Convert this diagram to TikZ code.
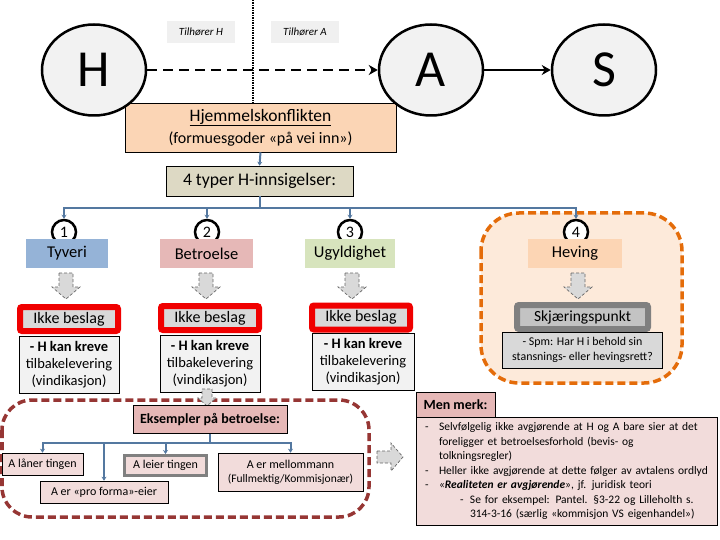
\documentclass[tikz,border=0pt]{standalone}
\usepackage{fontspec}
\setmainfont{Carlito}
\usetikzlibrary{shapes.geometric,arrows.meta}
\definecolor{ovalgray}{RGB}{242,242,242}
\definecolor{taggray}{RGB}{240,240,240}
\definecolor{hjemfill}{RGB}{251,213,181}
\definecolor{typerfill}{RGB}{221,217,196}
\definecolor{tyvblue}{RGB}{149,179,215}
\definecolor{betrpink}{RGB}{230,184,183}
\definecolor{ugylgreen}{RGB}{215,228,189}
\definecolor{hevpeach}{RGB}{252,213,180}
\definecolor{hevbg}{RGB}{253,234,218}
\definecolor{hevorange}{RGB}{228,108,10}
\definecolor{beslagred}{RGB}{240,0,0}
\definecolor{conblue}{RGB}{84,120,160}
\definecolor{darkred}{RGB}{150,54,52}
\definecolor{lightpink}{RGB}{242,220,219}
\definecolor{midgray}{RGB}{128,128,128}
\definecolor{skjgray}{RGB}{195,195,195}
\definecolor{spmgray}{RGB}{217,217,217}

\begin{document}
\begin{tikzpicture}[x=1pt,y=-1pt,
  party/.style={ellipse,draw,line width=2.5pt,fill=ovalgray,minimum width=104pt,
    minimum height=91pt,inner sep=0pt,font=\fontsize{52}{52}\selectfont},
  tag/.style={fill=taggray,minimum width=68pt,minimum height=22pt,inner sep=0pt,
    font=\fontsize{11}{13}\selectfont\itshape},
  box/.style={draw,line width=0.6pt,inner sep=0pt,align=center},
  num/.style={circle,draw,line width=2.5pt,fill=white,minimum size=24pt,inner sep=0pt,
    font=\fontsize{16}{16}\selectfont},
  cat/.style={minimum height=29pt,inner sep=0pt,font=\fontsize{16.5}{19}\selectfont},
  beslag/.style={draw=beslagred,line width=6pt,fill=spmgray,rounded corners=2pt,
    minimum width=98pt,minimum height=24pt,inner sep=0pt,font=\fontsize{16}{19}\selectfont},
  krav/.style={box,fill=ovalgray,minimum width=100pt,minimum height=57pt,
    font=\fontsize{14.5}{17}\selectfont},
  ex/.style={box,fill=lightpink,minimum height=22pt,font=\fontsize{12}{14}\selectfont},
  conn/.style={draw=conblue,line width=2pt,-{Stealth[length=4pt,width=5pt]}},
  blockarrow/.style={fill=spmgray,draw=black!60,line width=0.7pt,dash pattern=on 3pt off 2pt}
]
  \useasboundingbox (0,0) rectangle (720,540);

  % Heving frame
  \draw[hevorange,fill=hevbg,line width=3.5pt,dash pattern=on 8pt off 4pt,rounded corners=38pt]
    (481,213) rectangle (682,383);

  % Betroelse frame
  \draw[darkred,line width=3.5pt,dash pattern=on 8pt off 4pt,rounded corners=30pt]
    (2,400) rectangle (369,517);

  % Conflict box
  \node[box,fill=hjemfill,minimum width=271pt,minimum height=49pt,font=\fontsize{17.5}{22}\selectfont]
    (hjem) at (260.5,127.5) {\underline{Hjemmelskonflikten}\\{\fontsize{16}{18}\selectfont(formuesgoder «på vei inn»)}};

  % Parties
  \node[party] (h) at (94,70) {H};
  \node[party] (a) at (431,70) {A};
  \node[party] (s) at (604,70) {S};
  \node[tag] (tagh) at (201,32) {Tilhører H};
  \node[tag] (taga) at (305,32) {Tilhører A};

  % Ownership divide
  \coordinate (divtop) at (253,0);
  \draw[line width=2.5pt,dash pattern=on 1.5pt off 1pt] (divtop) -- (divtop |- hjem.north);
  \draw[line width=2.5pt,dash pattern=on 10pt off 6pt,-{Stealth[length=9pt,width=10pt]}] (h) -- (a);
  \draw[line width=2.5pt,-{Stealth[length=9pt,width=10pt]}] (a) -- (s);

  % Four types
  \node[box,fill=typerfill,minimum width=187pt,minimum height=30pt,font=\fontsize{17.7}{20}\selectfont]
    (typer) at (259.5,181) {4 typer H-innsigelser:};
  \draw[conn] (hjem.south) -- (typer.north);

  \foreach \n/\x in {1/64,2/207,3/350,4/576}
    \node[num] (n\n) at (\x,232) {\n};
  \foreach \n in {1,...,4}
    \draw[conn] (typer.south) -- ++(0,12) -| (n\n.north);

  \node[cat,fill=tyvblue,minimum width=82pt] (tyveri) at (67,253.5) {Tyveri};
  \node[cat,fill=betrpink,minimum width=93pt] (betro) at (206.5,253.5) {Betroelse};
  \node[cat,fill=ugylgreen,minimum width=90pt] (ugyld) at (350,253.5) {Ugyldighet};
  \node[cat,fill=hevpeach,minimum width=94pt] (heving) at (575,253.5) {Heving};

  % Block arrows
  \foreach \x in {66,206,352,578}
    \draw[blockarrow] (\x-7,273) -- (\x+7,273) -- (\x+7,287) -- (\x+14,287) -- (\x,299)
      -- (\x-14,287) -- (\x-7,287) -- cycle;

  % Results
  \node[beslag] (besl1) at (69,319) {Ikke beslag};
  \node[beslag] (besl2) at (210,318) {Ikke beslag};
  \node[beslag] (besl3) at (361,317.5) {Ikke beslag};
  \node[beslag,draw=midgray,fill=skjgray,minimum width=131pt,font=\fontsize{15.5}{18}\selectfont]
    (skj) at (582.5,317) {Skjæringspunkt};

  \node[krav] (krav1) at (69,365) {\textbf{- H kan kreve}\\tilbakelevering\\(vindikasjon)};
  \node[krav] (krav2) at (210,363.5) {\textbf{- H kan kreve}\\tilbakelevering\\(vindikasjon)};
  \node[krav,minimum width=102pt] (krav3) at (363,362) {\textbf{- H kan kreve}\\tilbakelevering\\(vindikasjon)};
  \node[box,fill=spmgray,minimum width=160pt,minimum height=36pt,font=\fontsize{11.9}{15}\selectfont]
    (spm) at (582.5,350) {- Spm: Har H i behold sin\\stansnings- eller hevingsrett?};

  % Examples of betroelse
  \draw[blockarrow] (202,389) -- (212,389) -- (212,398) -- (216,398) -- (207,406) -- (198,398)
    -- (202,398) -- cycle;
  \node[box,fill=betrpink,minimum width=154pt,minimum height=28pt,font=\fontsize{14}{17}\selectfont\bfseries]
    (eks) at (210,419.5) {Eksempler på betroelse:};
  \node[ex,minimum width=81pt] (laaner) at (42.5,464) {A låner tingen};
  \node[ex,minimum width=128pt] (proforma) at (104,492) {A er «pro forma»-eier};
  \node[ex,draw=midgray,line width=3pt,minimum width=82pt,minimum height=20pt] (leier) at (165.5,465.5) {A leier tingen};
  \node[ex,minimum width=145pt,minimum height=38pt] (mellom) at (290.5,472)
    {A er mellommann\\{\fontsize{11.5}{13}\selectfont(Fullmektig/Kommisjonær)}};
  \foreach \t in {laaner,proforma,leier,mellom}
    \draw[conn] (eks.south) -- ++(0,9) -| (\t.north);

  \draw[blockarrow] (377,451) -- (391,451) -- (391,443) -- (403,457) -- (391,471) -- (391,463)
    -- (377,463) -- cycle;

  % Note
  \node[box,fill=betrpink,minimum width=79pt,minimum height=25pt,font=\fontsize{14}{17}\selectfont\bfseries]
    (merk) at (455.5,405) {Men merk:};
  \node[box,fill=lightpink,minimum width=301pt,minimum height=108pt,text width=297pt,inner xsep=2pt,
    align=left,font=\fontsize{11.5}{14.5}\selectfont] (note) at (566.5,471) {%
    \hspace*{7pt}\makebox[14pt][l]{-}Selvfølgelig ikke avgjørende at H og A bare sier at det\\
    \hspace*{21pt}foreligger et betroelsesforhold (bevis- og\\
    \hspace*{21pt}tolkningsregler)\\
    \hspace*{7pt}\makebox[14pt][l]{-}Heller ikke avgjørende at dette følger av avtalens ordlyd\\
    \hspace*{7pt}\makebox[14pt][l]{-}«\textbf{\textit{Realiteten er avgjørende}}», jf. juridisk teori\\
    \hspace*{42pt}\makebox[10pt][l]{-}Se for eksempel: Pantel. §3-22 og Lilleholth s.\\
    \hspace*{52pt}314-3-16 (særlig «kommisjon VS eigenhandel»)};
\end{tikzpicture}
\end{document}
